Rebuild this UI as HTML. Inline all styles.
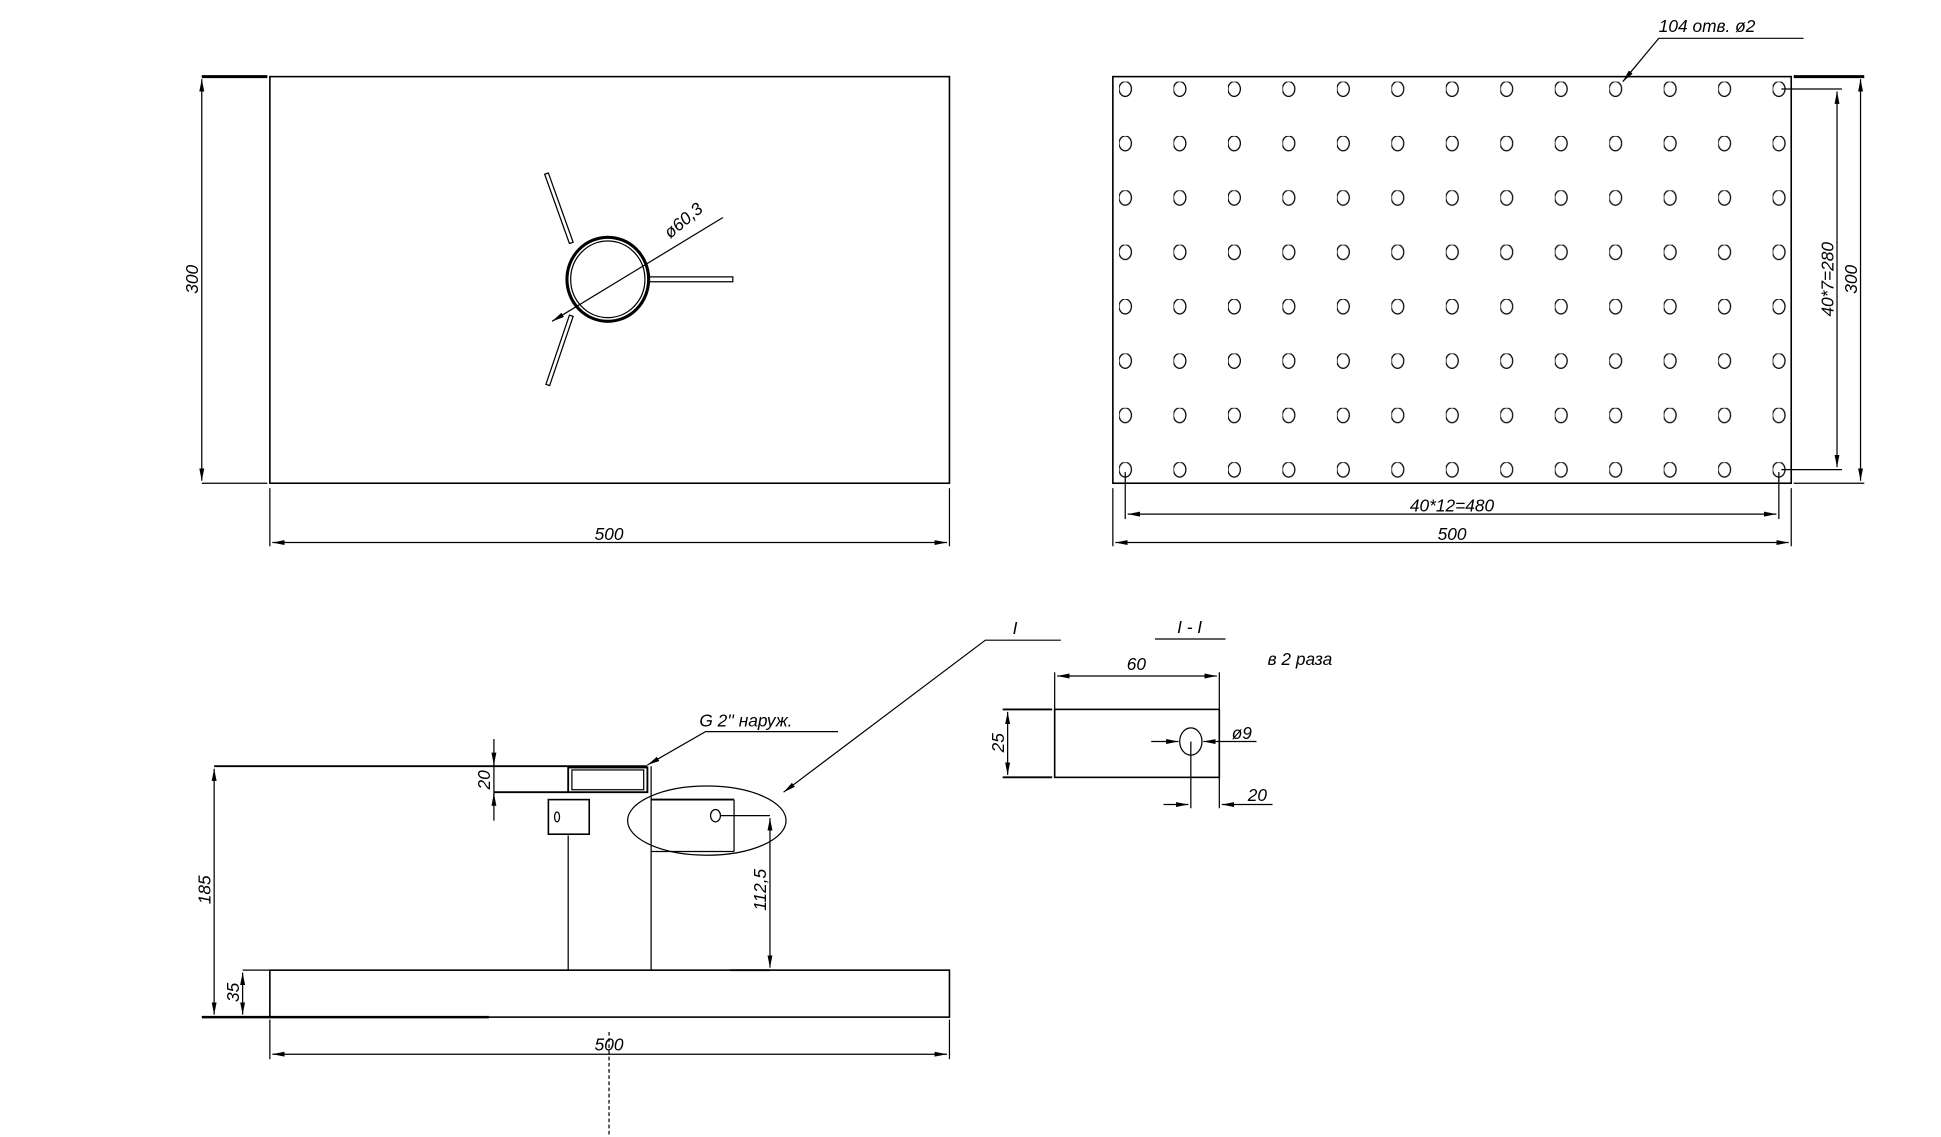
<!DOCTYPE html>
<html><head><meta charset="utf-8"><style>
html,body{margin:0;padding:0;background:#fff;}
svg{display:block;}
text{font-family:"Liberation Sans","DejaVu Sans",sans-serif;font-style:italic;font-size:14px;fill:#000;}
</style></head><body>
<svg width="1941" height="1137" viewBox="0 0 1568 920" preserveAspectRatio="none" xmlns="http://www.w3.org/2000/svg">
<defs>
<marker id="a" markerWidth="10" markerHeight="6" refX="10" refY="3" orient="auto-start-reverse" markerUnits="userSpaceOnUse"><path d="M0,1 L10,3 L0,5 z" fill="#000"/></marker>
<pattern id="holes" x="904" y="66" width="44" height="44" patternUnits="userSpaceOnUse"><ellipse cx="5" cy="6" rx="5" ry="6" fill="none" stroke="#000" stroke-width="1"/></pattern>
</defs>
<g fill="none" stroke="#000" stroke-width="1">
<rect x="218" y="62" width="549" height="329" stroke-width="1.3"/>
<line x1="163" y1="62" x2="216" y2="62" stroke-width="2.5"/>
<line x1="163" y1="391" x2="216" y2="391"/>
<line x1="163" y1="64" x2="163" y2="389" marker-start="url(#a)" marker-end="url(#a)"/>
<line x1="218" y1="395" x2="218" y2="442"/>
<line x1="767" y1="395" x2="767" y2="442"/>
<line x1="220" y1="439" x2="765" y2="439" marker-start="url(#a)" marker-end="url(#a)"/>
<ellipse cx="491" cy="226" rx="33" ry="34" stroke-width="2.5"/>
<ellipse cx="491" cy="226" rx="30" ry="31"/>
<polygon points="440,141 443,140 463,196 460,197"/>
<polygon points="524,224 592,224 592,228 524,228"/>
<polygon points="460,255 463,256 444,312 441,311"/>
<line x1="446" y1="260" x2="584" y2="176" marker-start="url(#a)"/>
<rect x="899" y="62" width="548" height="329" stroke-width="1.3"/>
<rect x="904" y="66" width="540" height="324" stroke="none" fill="url(#holes)"/>
<polyline points="1457,31 1340,31 1311,66" marker-end="url(#a)"/>
<line x1="1449" y1="62" x2="1506" y2="62" stroke-width="2.5"/>
<line x1="1449" y1="391" x2="1506" y2="391"/>
<line x1="1503" y1="64" x2="1503" y2="389" marker-start="url(#a)" marker-end="url(#a)"/>
<line x1="1439" y1="72" x2="1488" y2="72"/>
<line x1="1439" y1="380" x2="1488" y2="380"/>
<line x1="1484" y1="74" x2="1484" y2="378" marker-start="url(#a)" marker-end="url(#a)"/>
<line x1="909" y1="382" x2="909" y2="420"/>
<line x1="1437" y1="382" x2="1437" y2="420"/>
<line x1="911" y1="416" x2="1435" y2="416" marker-start="url(#a)" marker-end="url(#a)"/>
<line x1="899" y1="395" x2="899" y2="442"/>
<line x1="1447" y1="395" x2="1447" y2="442"/>
<line x1="901" y1="439" x2="1445" y2="439" marker-start="url(#a)" marker-end="url(#a)"/>
<rect x="218" y="785" width="549" height="38" stroke-width="1.3"/>
<line x1="196" y1="785" x2="218" y2="785"/>
<line x1="163" y1="823" x2="395" y2="823" stroke-width="2"/>
<line x1="173" y1="620" x2="523" y2="620" stroke-width="1.5"/>
<line x1="173" y1="622" x2="173" y2="821" marker-start="url(#a)" marker-end="url(#a)"/>
<line x1="196" y1="787" x2="196" y2="821" marker-start="url(#a)" marker-end="url(#a)"/>
<line x1="459" y1="676" x2="459" y2="785"/>
<line x1="526" y1="620" x2="526" y2="785"/>
<rect x="459" y="621" width="64" height="20" stroke-width="1.5"/>
<rect x="462" y="623" width="58" height="16"/>
<line x1="399" y1="641" x2="459" y2="641" stroke-width="1.5"/>
<line x1="399" y1="598" x2="399" y2="664"/>
<line x1="399" y1="610" x2="399" y2="619" marker-end="url(#a)"/>
<line x1="399" y1="652" x2="399" y2="642" marker-end="url(#a)"/>
<rect x="443" y="647" width="33" height="28" stroke-width="1.3"/>
<ellipse cx="450" cy="661" rx="2" ry="4"/>
<line x1="526" y1="647" x2="593" y2="647" stroke-width="1.5"/>
<line x1="526" y1="689" x2="593" y2="689"/>
<line x1="593" y1="647" x2="593" y2="689"/>
<ellipse cx="578" cy="660" rx="4" ry="5"/>
<line x1="582" y1="660" x2="622" y2="660"/>
<line x1="622" y1="662" x2="622" y2="783" marker-start="url(#a)" marker-end="url(#a)"/>
<line x1="590" y1="785" x2="622" y2="785" stroke-width="1.5"/>
<ellipse cx="571" cy="664" rx="64" ry="28"/>
<polyline points="857,518 796,518 633,641" marker-end="url(#a)"/>
<polyline points="677,592 570,592 523,619" marker-end="url(#a)"/>
<line x1="218" y1="825" x2="218" y2="857"/>
<line x1="767" y1="825" x2="767" y2="857"/>
<line x1="220" y1="853" x2="765" y2="853" marker-start="url(#a)" marker-end="url(#a)"/>
<line x1="492" y1="835" x2="492" y2="918" stroke-dasharray="3,2"/>
<line x1="933" y1="517" x2="990" y2="517"/>
<rect x="852" y="574" width="133" height="55" stroke-width="1.3"/>
<line x1="852" y1="544" x2="852" y2="574"/>
<line x1="985" y1="544" x2="985" y2="574"/>
<line x1="854" y1="547" x2="983" y2="547" marker-start="url(#a)" marker-end="url(#a)"/>
<line x1="810" y1="574" x2="850" y2="574" stroke-width="1.5"/>
<line x1="810" y1="629" x2="850" y2="629" stroke-width="1.5"/>
<line x1="814" y1="576" x2="814" y2="627" marker-start="url(#a)" marker-end="url(#a)"/>
<ellipse cx="962" cy="600" rx="9" ry="11"/>
<line x1="930" y1="600" x2="952" y2="600" marker-end="url(#a)"/>
<line x1="1015" y1="600" x2="972" y2="600" marker-end="url(#a)"/>
<line x1="962" y1="600" x2="962" y2="654"/>
<line x1="985" y1="629" x2="985" y2="654"/>
<line x1="940" y1="651" x2="960" y2="651" marker-end="url(#a)"/>
<line x1="1028" y1="651" x2="987" y2="651" marker-end="url(#a)"/>
</g>
<g>
<text x="160" y="226" text-anchor="middle" transform="rotate(-90 160 226)">300</text>
<text x="492" y="437" text-anchor="middle">500</text>
<text x="0" y="0" transform="translate(555,182) rotate(-40)" text-anchor="middle">ø60,3</text>
<text x="1340" y="26">104 отв. ø2</text>
<text x="1500" y="226" text-anchor="middle" transform="rotate(-90 1500 226)">300</text>
<text x="1481" y="226" text-anchor="middle" transform="rotate(-90 1481 226)">40*7=280</text>
<text x="1173" y="414" text-anchor="middle">40*12=480</text>
<text x="1173" y="437" text-anchor="middle">500</text>
<text x="170" y="720" text-anchor="middle" transform="rotate(-90 170 720)">185</text>
<text x="193" y="803" text-anchor="middle" transform="rotate(-90 193 803)">35</text>
<text x="396" y="631" text-anchor="middle" transform="rotate(-90 396 631)">20</text>
<text x="619" y="720" text-anchor="middle" transform="rotate(-90 619 720)">112,5</text>
<text x="565" y="588">G 2'' наруж.</text>
<text x="818" y="513">I</text>
<text x="492" y="850" text-anchor="middle">500</text>
<text x="961" y="512" text-anchor="middle">I - I</text>
<text x="1024" y="538">в 2 раза</text>
<text x="918" y="542" text-anchor="middle">60</text>
<text x="811" y="601" text-anchor="middle" transform="rotate(-90 811 601)">25</text>
<text x="995" y="598">ø9</text>
<text x="1008" y="648">20</text>
</g>
</svg>
</body></html>
